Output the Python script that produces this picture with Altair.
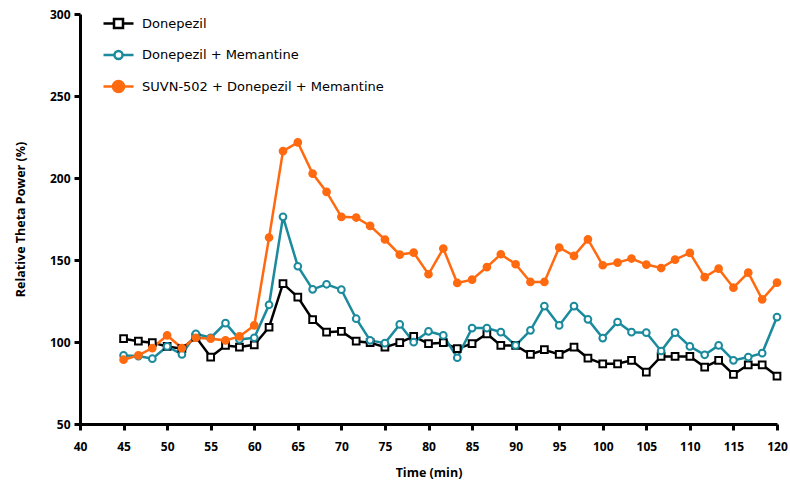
import altair as alt
import pandas as pd

times = [45, 46.7, 48.3, 50, 51.7, 53.3, 55, 56.7, 58.3, 60,
         61.7, 63.3, 65, 66.7, 68.3, 70, 71.7, 73.3, 75, 76.7,
         78.3, 80, 81.7, 83.3, 85, 86.7, 88.3, 90, 91.7, 93.3,
         95, 96.7, 98.3, 100, 101.7, 103.3, 105, 106.7, 108.3, 110,
         111.7, 113.3, 115, 116.7, 118.3, 120]

donepezil = [102, 100.5, 99.6, 97.3, 95.9, 103, 90.8, 97.9, 96.9, 98.3,
             109, 135.6, 127.4, 113.6, 106, 106.5, 100.5, 99.6, 96.9, 99.6,
             103.4, 99, 99.6, 95.9, 99, 105, 97.9, 97.9, 92.4, 95.3,
             92.4, 96.9, 90.2, 86.7, 86.7, 88.8, 81.6, 91.2, 91.2, 91.2,
             84.7, 88.8, 80.2, 86.1, 86.1, 79.2]

donepezil_memantine = [91.8, 91.4, 89.8, 97.3, 92.4, 105, 102.6, 111.5, 101.6, 102.6,
                       122.7, 176.3, 146.2, 132.1, 135.2, 131.9, 114.2, 101, 99.3, 110.7,
                       99.9, 106.5, 104, 90.4, 108.5, 108.5, 106, 97.9, 107.1, 121.9,
                       110.1, 121.9, 113.8, 102.4, 112.2, 106, 105.7, 94.5, 105.7, 97.3,
                       92.2, 97.9, 88.8, 90.8, 93.2, 115.2]

suvn_donepezil_memantine = [89.2, 91.8, 96.3, 104, 96.3, 102.6, 102, 101, 103.4, 110.1,
                            163.7, 216.4, 221.7, 202.7, 191.5, 176.3, 175.9, 170.8, 162.5, 153.3,
                            154.5, 141.3, 157, 136, 138, 145.7, 153.5, 147.4, 136.6, 136.6,
                            157.6, 152.5, 162.6, 146.8, 148.4, 150.9, 147.2, 145.1, 150.2, 154.3,
                            139.6, 144.7, 133.1, 142.3, 126, 136.2]

series_names = ["Donepezil", "Donepezil + Memantine", "SUVN-502 + Donepezil + Memantine"]
line_colors = ["#000000", "#1A8A9C", "#FF6A10"]
marker_fills = ["#FFFFFF", "#FFFFFF", "#FF6A10"]
marker_shapes = ["square", "circle", "circle"]
marker_sizes = [45, 45, 100]
legend_shapes = [
    "M-1,0H-0.3M0.3,0H1M-0.3,-0.3H0.3V0.3H-0.3Z",
    "M-1,0H-0.27M0.27,0H1M-0.27,0A0.27,0.27 0 1,1 0.27,0A0.27,0.27 0 1,1 -0.27,0Z",
    "M-1,0H-0.37M0.37,0H1M-0.37,0A0.37,0.37 0 1,1 0.37,0A0.37,0.37 0 1,1 -0.37,0Z",
]
x_ticks = list(range(40, 121, 5))
y_ticks = [50, 100, 150, 200, 250, 300]

rows = []
for name, vals in zip(series_names, [donepezil, donepezil_memantine, suvn_donepezil_memantine]):
    for t, v in zip(times, vals):
        rows.append({"Time": t, "Power": v, "Series": name})
df = pd.DataFrame(rows)

FONT = "Open Sans"

x = alt.X("Time:Q", scale=alt.Scale(domain=[40, 120], nice=False, zero=False),
          axis=alt.Axis(title="Time (min)", values=x_ticks, titlePadding=14, labelPadding=11,
                        labelFlush=False))
y = alt.Y("Power:Q", scale=alt.Scale(domain=[50, 300], nice=False, zero=False),
          axis=alt.Axis(title="Relative Theta Power (%)", values=y_ticks, titlePadding=22, labelPadding=4,
                        labelFlush=False))

def stroke_enc(legend):
    return alt.Stroke("Series:N", scale=alt.Scale(domain=series_names, range=line_colors), legend=legend)

base = alt.Chart(df)

lines = base.mark_line(strokeWidth=2.5).encode(x=x, y=y, stroke=stroke_enc(None))

points = base.mark_point(filled=True, strokeWidth=2, opacity=1).encode(
    x=x, y=y,
    stroke=stroke_enc(None),
    fill=alt.Fill("Series:N", scale=alt.Scale(domain=series_names, range=marker_fills), legend=None),
    shape=alt.Shape("Series:N", scale=alt.Scale(domain=series_names, range=marker_shapes), legend=None),
    size=alt.Size("Series:O", scale=alt.Scale(domain=series_names, range=marker_sizes), legend=None),
)

leg = alt.Legend(title=None, orient="none", legendX=22, legendY=-7, symbolSize=900,
                 labelFontSize=13, labelFont="DejaVu Sans", labelColor="black", labelLimit=0,
                 labelOffset=7, rowPadding=5.5, symbolStrokeWidth=2.5)

legend_layer = base.transform_filter("false").mark_point(filled=True, strokeWidth=2.5, opacity=1).encode(
    x=x, y=y,
    stroke=stroke_enc(leg),
    fill=alt.Fill("Series:N", scale=alt.Scale(domain=series_names, range=marker_fills), legend=leg),
    shape=alt.Shape("Series:N", scale=alt.Scale(domain=series_names, range=legend_shapes), legend=leg),
)

chart = alt.layer(lines, points, legend_layer).resolve_scale(
    stroke="independent", fill="independent", shape="independent", size="independent"
).properties(
    width=697, height=410,
    autosize=alt.AutoSizeParams(type="none"),
    padding={"left": 80, "top": 14, "right": 13, "bottom": 59},
).configure_view(stroke=None).configure_axis(
    grid=False,
    domainColor="black", domainWidth=3,
    tickColor="black", tickWidth=3, tickSize=6,
    labelFont=FONT, labelFontWeight="bold", labelFontSize=12, labelColor="black",
    titleFont=FONT, titleFontWeight="bold", titleFontSize=12.5, titleColor="black",
)

chart.save("out.html", embed_options={"renderer": "svg", "actions": False})
